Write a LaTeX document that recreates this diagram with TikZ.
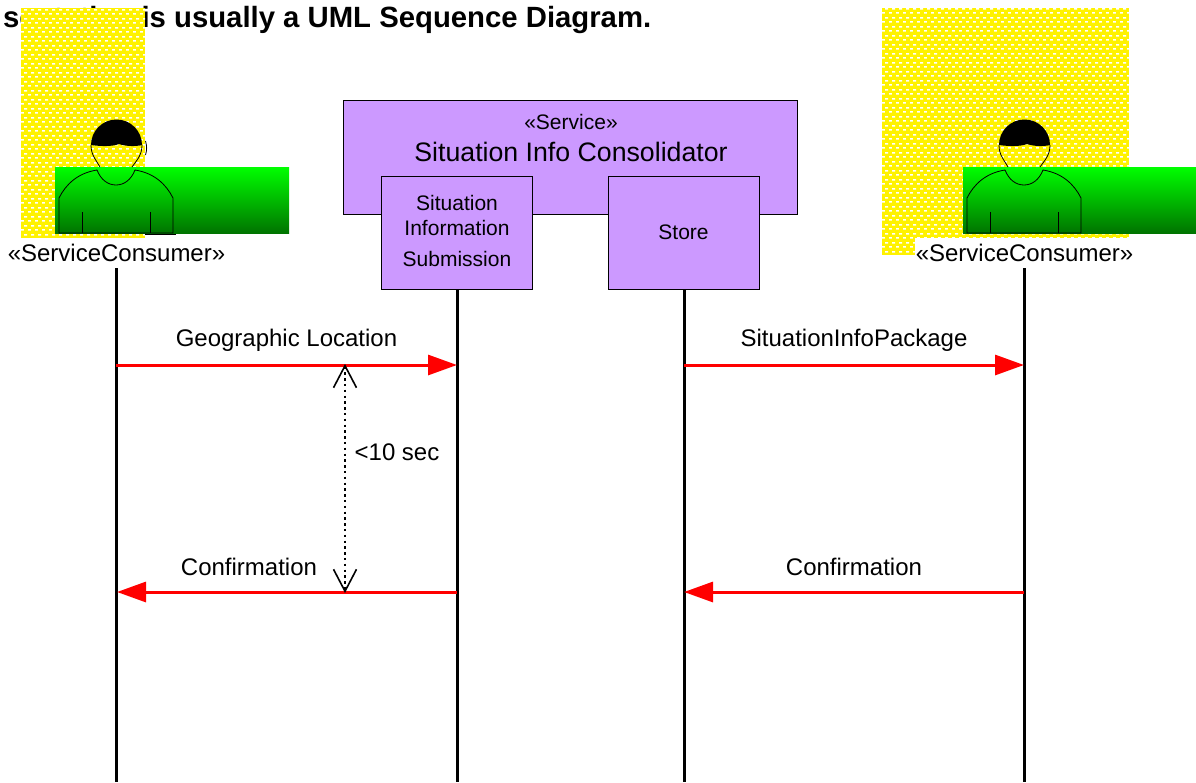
\documentclass[tikz,border=0pt]{standalone}
\usepackage{fontspec}
\setmainfont{Liberation Sans}
\usetikzlibrary{shapes,arrows.meta,positioning,patterns}
\definecolor{boxpurple}{HTML}{CC99FF}
\pgfdeclarepatternformonly{yellowdots}{\pgfpointorigin}{\pgfpoint{7pt}{8.6pt}}{\pgfpoint{7pt}{8.6pt}}{
 \pgfpathrectangle{\pgfpoint{0pt}{1.4pt}}{\pgfpoint{3.4pt}{1.5pt}}
 \pgfpathrectangle{\pgfpoint{3.5pt}{5.7pt}}{\pgfpoint{3.4pt}{1.5pt}}
 \pgfusepath{fill}}
\tikzstyle{purpleblock}=[rectangle, draw, align=center, fill=boxpurple, line width=0.8pt, inner sep=0pt]
\tikzstyle{lifeline}=[line width=3pt]
\tikzstyle{message}=[draw=red, line width=3pt, -{Triangle[length=29pt,width=20pt]}]
\tikzstyle{greenband}=[top color=green, bottom color=green!45!black, draw=none]
\tikzstyle{label}=[font=\fontsize{24}{26}\selectfont, inner sep=0pt]
\tikzstyle{boxlabel}=[font=\fontsize{21}{24}\selectfont, inner sep=0pt]
\tikzstyle{skin}=[draw=black, line width=0.8pt]
\newcommand{\tikzyellow}[4]{
 \fill[yellow] (#1,#2) rectangle (#3,#4);
 \fill[pattern=yellowdots, pattern color=white] (#1,#2) rectangle (#3,#4);}
\newcommand{\tikzperson}[1]{
 \begin{scope}[shift={(#1,0)}]
  \fill[black] (-25,145) arc[start angle=180, end angle=360, radius=25.5] .. controls (20,146.5) and (10,146.5) .. (3,144) .. controls (-3,146.5) and (-15,146.5) .. cycle;
  \draw[skin] (-25,145) .. controls (-25,155) and (-20,160) .. (-16,167);
  \draw[skin] (26,145) .. controls (26,155) and (21,160) .. (16,167);
  \draw[skin] (-57,198) .. controls (-50,184) and (-38,173) .. (-19,170) .. controls (-15,180) and (-8,185) .. (0,185) .. controls (8,185) and (15,180) .. (19,170) .. controls (38,173) and (50,184) .. (57,198) -- (57,233) -- (-57,233) -- cycle;
  \draw[skin] (-34,212) -- (-34,233);
  \draw[skin] (34,212) -- (34,233);
 \end{scope}}

\begin{document}
\begin{tikzpicture}[x=1pt,y=-1pt]
\useasboundingbox (0,0) rectangle (1196,782);

\node[font=\fontsize{29.3}{32}\selectfont\bfseries, anchor=west, inner sep=0pt](title) at (3,20) {sentation is usually a UML Sequence Diagram.};

\tikzyellow{21}{8}{145}{238}
\tikzyellow{882}{8}{1129}{255}
\draw[line width=1.6pt] (145,234.5) -- (176,234.5);
\draw[skin] (145.5,141) .. controls (147,146) and (147,150) .. (145.5,155);
\fill[greenband] (55,167) rectangle (289,233.5);
\fill[greenband] (963,167) rectangle (1196,233.5);

\node[label](user1) at (116.5,253) {«ServiceConsumer»};
\node[label, fill=white, minimum height=30pt, inner xsep=1pt](user2) at (1024.5,253) {«ServiceConsumer»};

\tikzperson{116}
\tikzperson{1024}

\node[purpleblock, minimum width=454pt, minimum height=114pt](service) at (570,157) {};
\node[boxlabel](stereo) at (571,122) {«Service»};
\node[font=\fontsize{26.7}{30}\selectfont, inner sep=0pt](name) at (571,152) {Situation Info Consolidator};
\node[purpleblock, minimum width=151pt, minimum height=113pt](submit) at (456.5,232.5) {};
\node[boxlabel](s1) at (457,203) {Situation};
\node[boxlabel](s2) at (457,228) {Information};
\node[boxlabel](s3) at (457,259) {Submission};
\node[purpleblock, minimum width=151pt, minimum height=113pt, boxlabel](store) at (683.5,232.5) {\raisebox{-1pt}{Store}};

\coordinate (end1) at (116,782);
\coordinate (end2) at (457,782);
\coordinate (end3) at (684,782);
\coordinate (end4) at (1024,782);
\coordinate (top1) at (116,268);
\coordinate (top4) at (1024,268);
\draw[lifeline] (top1) -- (end1);
\draw[lifeline] (submit.south -| end2) -- (end2);
\draw[lifeline] (store.south -| end3) -- (end3);
\draw[lifeline] (top4) -- (end4);

\coordinate (geo1) at (116,365);
\coordinate (geo2) at (457,365);
\coordinate (pkg1) at (684,365);
\coordinate (pkg2) at (1024,365);
\coordinate (conf1) at (457,592);
\coordinate (conf2) at (117,592);
\coordinate (conf3) at (1024,592);
\coordinate (conf4) at (684,592);
\draw[message] (geo1) -- (geo2);
\draw[message] (pkg1) -- (pkg2);
\draw[message] (conf1) -- (conf2);
\draw[message] (conf3) -- (conf4);

\node[label](geo) at (286.5,340.5) {Geographic Location};
\node[label](pkg) at (854,340.5) {SituationInfoPackage};
\node[label](confa) at (249,566.5) {Confirmation};
\node[label](confb) at (854,566.5) {Confirmation};

\coordinate (time1) at (345,364);
\coordinate (time2) at (345,593);
\draw[line width=1.8pt, dash pattern=on 2.4pt off 3.4pt, {Straight Barb[length=22pt,width=23pt,line width=1.6pt]}-{Straight Barb[length=22pt,width=23pt,line width=1.6pt]}] (time1) -- (time2);
\node[label](limit) at (397,452) {<10 sec};

\end{tikzpicture}
\end{document}
